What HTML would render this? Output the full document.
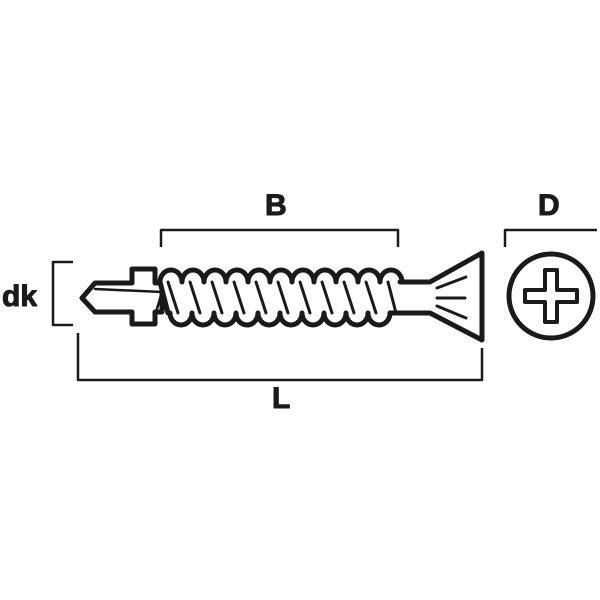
<!DOCTYPE html>
<html><head><style>
body{margin:0;background:#fff;width:600px;height:600px;overflow:hidden}
svg{display:block}
text{font-family:"Liberation Sans",sans-serif;font-weight:bold;font-size:30px;fill:#1a1a1a}
</style></head><body>
<svg width="600" height="600" viewBox="0 0 600 600" fill="none" stroke="#1a1a1a" stroke-linejoin="round" stroke-linecap="round">
<!-- dimension lines -->
<g stroke-width="2.5" stroke-linecap="butt">
<path d="M161 247V230H398V247"/>
<path d="M505 247V230H597"/>
<path d="M73 262H53V325H73"/>
<path d="M78 333V380H482V348"/>
</g>
<text x="265" y="215">B</text>
<text x="538" y="215">D</text>
<text x="2" y="306">dk</text>
<text x="272" y="408">L</text>
<!-- drill tip -->
<g stroke-width="5">
<path d="M82 298L95 283H132V269H155V283H162V312H155V324H132V312H95Z" fill="#fff"/>
<path d="M95 289L162 292L156 312" stroke-width="2.5"/>
<path d="M95 305L155 305" stroke-width="0"/>
<!-- thread body -->
<path d="M160 282
 a11 12 0 0 1 22 0 a11 12 0 0 1 22 0 a11 12 0 0 1 22 0 a11 12 0 0 1 22 0 a11 12 0 0 1 22 0 a11 12 0 0 1 22 0 a11 12 0 0 1 22 0 a11 12 0 0 1 22 0 a11 12 0 0 1 22 0 a11 12 0 0 1 22 0 a11 12 0 0 1 22 0
 L400 282 L430 282 L482 253 V340 L430 313 L400 313 L390 313
 a11 12 0 0 1 -22 0 a11 12 0 0 1 -22 0 a11 12 0 0 1 -22 0 a11 12 0 0 1 -22 0 a11 12 0 0 1 -22 0 a11 12 0 0 1 -22 0 a11 12 0 0 1 -22 0 a11 12 0 0 1 -22 0 a11 12 0 0 1 -22 0 a11 12 0 0 1 -22 0
 L168 313 Z" fill="#fff"/>
</g>
<g stroke-width="3">
<path d="M168 282L178 313M190 282L200 313M212 282L222 313M234 282L244 313M256 282L266 313M278 282L288 313M300 282L310 313M322 282L332 313M344 282L354 313M366 282L376 313M388 282L396 313"/>
<path d="M437 288L466 277M437 298H465M437 306L466 318"/>
</g>
<!-- head view -->
<circle cx="551" cy="296" r="42" stroke-width="5" fill="#fff"/>
<path d="M545 270H557V290H577V302H557V322H545V302H525V290H545Z" stroke-width="4" fill="#fff"/>
</svg>
</body></html>
